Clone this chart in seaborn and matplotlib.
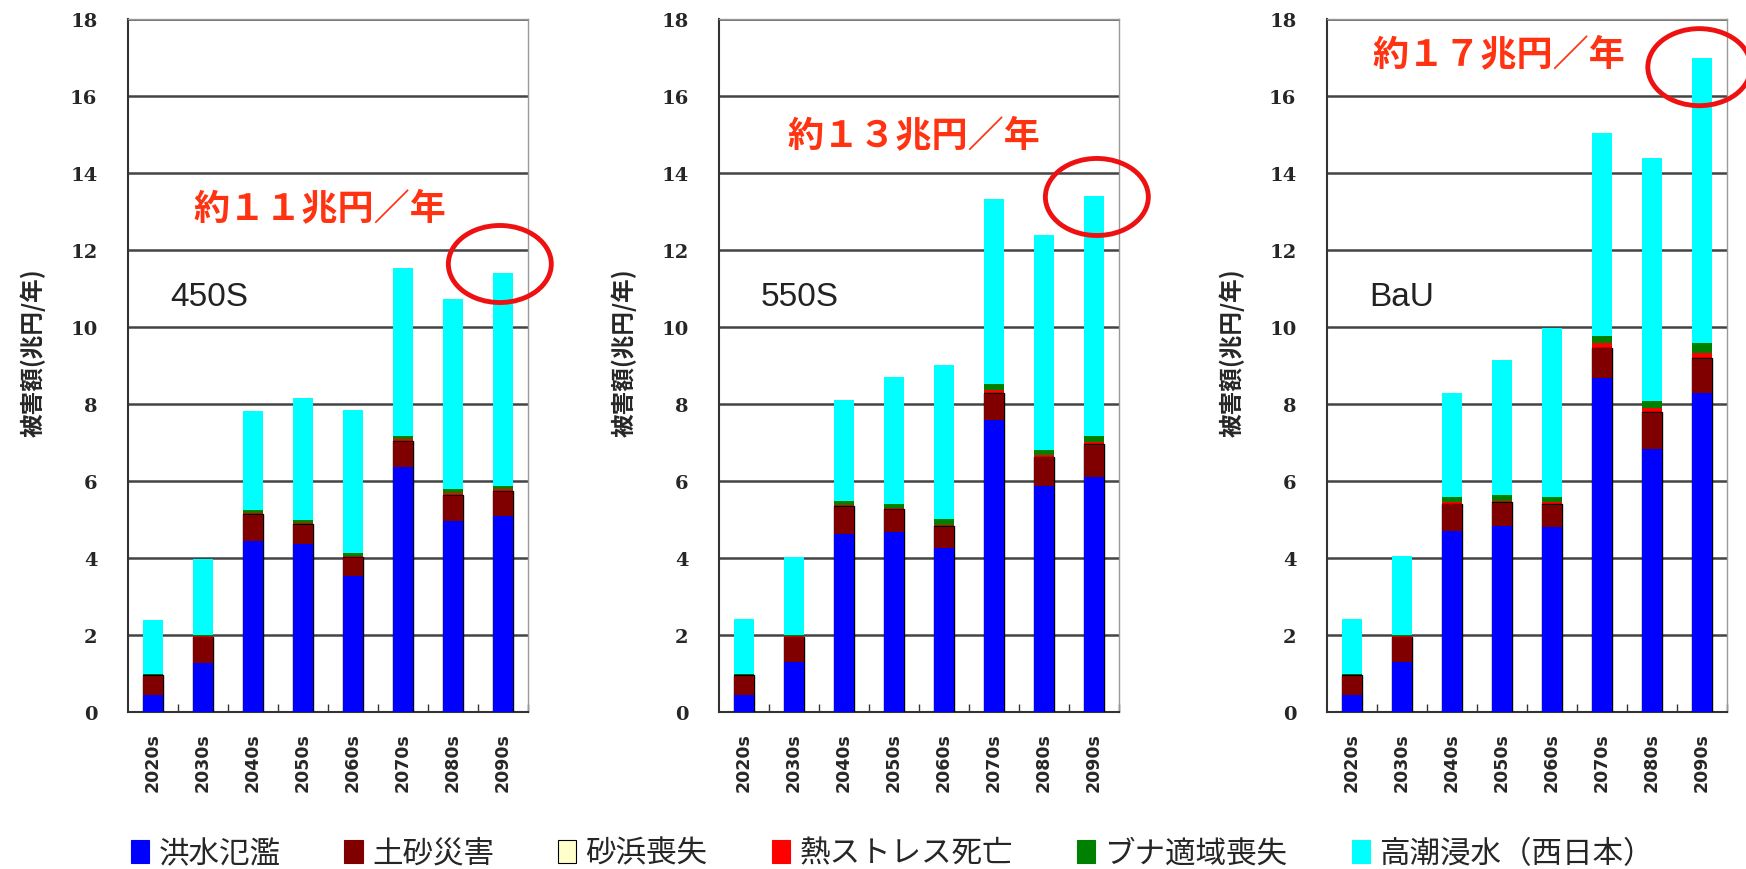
import matplotlib
matplotlib.use("Agg")
import matplotlib.pyplot as plt
from matplotlib.patches import Ellipse, Patch
import numpy as np
import seaborn as sns

# decades on the x axis
decades = ["2020s", "2030s", "2040s", "2050s", "2060s", "2070s", "2080s", "2090s"]
scenarios = ["450S", "550S", "BaU"]
damage_names = ["洪水氾濫", "土砂災害", "砂浜喪失", "熱ストレス死亡", "ブナ適域喪失", "高潮浸水（西日本）"]
damage_colors = ["#0000FF", "#800000", "#FFFFCC", "#FF0000", "#008000", "#00FFFF"]
total_labels = ["約１１兆円／年", "約１３兆円／年", "約１７兆円／年"]

# damage (trillion yen / year) per category
flood_450 = [0.44, 1.27, 4.44, 4.36, 3.53, 6.36, 4.96, 5.09]
sediment_450 = [0.50, 0.68, 0.68, 0.50, 0.48, 0.66, 0.66, 0.63]
beach_450 = [0.02, 0.02, 0.02, 0.02, 0.02, 0.02, 0.02, 0.02]
heat_450 = [0.02, 0.02, 0.04, 0.03, 0.03, 0.05, 0.05, 0.05]
beech_450 = [0.02, 0.02, 0.08, 0.08, 0.09, 0.08, 0.10, 0.10]
surge_450 = [1.39, 1.96, 2.56, 3.17, 3.70, 4.37, 4.95, 5.51]

flood_550 = [0.44, 1.30, 4.62, 4.68, 4.28, 7.58, 5.87, 6.10]
sediment_550 = [0.50, 0.65, 0.71, 0.57, 0.54, 0.68, 0.75, 0.85]
beach_550 = [0.02, 0.02, 0.02, 0.02, 0.02, 0.02, 0.02, 0.02]
heat_550 = [0.02, 0.02, 0.04, 0.03, 0.03, 0.09, 0.05, 0.06]
beech_550 = [0.02, 0.02, 0.10, 0.10, 0.15, 0.15, 0.12, 0.14]
surge_550 = [1.42, 2.02, 2.61, 3.30, 4.00, 4.80, 5.59, 6.24]

flood_bau = [0.44, 1.30, 4.72, 4.85, 4.80, 8.68, 6.84, 8.28]
sediment_bau = [0.50, 0.65, 0.68, 0.58, 0.58, 0.77, 0.94, 0.89]
beach_bau = [0.02, 0.02, 0.02, 0.02, 0.02, 0.02, 0.02, 0.02]
heat_bau = [0.02, 0.02, 0.05, 0.05, 0.05, 0.12, 0.10, 0.14]
beech_bau = [0.02, 0.02, 0.12, 0.15, 0.15, 0.18, 0.18, 0.26]
surge_bau = [1.42, 2.04, 2.69, 3.49, 4.38, 5.27, 6.31, 7.40]

panels = [
    [flood_450, sediment_450, beach_450, heat_450, beech_450, surge_450],
    [flood_550, sediment_550, beach_550, heat_550, beech_550, surge_550],
    [flood_bau, sediment_bau, beach_bau, heat_bau, beech_bau, surge_bau],
]

# annotation placement (data coords) per panel
total_pos = [(0.8, 13.1), (0.86, 15.0), (0.4, 17.1)]
circle_pos = [(6.94, 11.64), (7.06, 13.38), (6.95, 16.75)]

sns.set_theme(style="white")
plt.rcParams["font.family"] = ["Noto Sans CJK JP", "DejaVu Sans"]

fig = plt.figure(figsize=(17.46, 8.70), dpi=100)
lefts = [0.0733, 0.4118, 0.760]

for i, layers in enumerate(panels):
    ax = fig.add_axes([lefts[i], 0.18, 0.229, 0.797])
    cum = np.cumsum(np.array(layers), axis=0)
    # draw cumulative bars from the top layer down so they stack visually
    for k in reversed(range(len(layers))):
        edge = "black" if k == 2 else "none"
        sns.barplot(x=decades, y=cum[k], color=damage_colors[k], saturation=1,
                    width=0.4, edgecolor=edge, linewidth=1.0 if k == 2 else 0,
                    ax=ax, zorder=3)

    ax.set_xlim(-0.5, 7.5)
    ax.set_ylim(0, 18)
    ax.set_yticks(range(0, 19, 2))
    ax.yaxis.grid(True, color="#444444", linewidth=1.8, zorder=0)
    ax.set_axisbelow(True)
    for side in ["top", "right"]:
        ax.spines[side].set_color("#999999")
        ax.spines[side].set_linewidth(1.0)
    for side in ["left", "bottom"]:
        ax.spines[side].set_color("#333333")
        ax.spines[side].set_linewidth(1.5)

    ax.set_xticks(np.arange(len(decades)) + 0.5, minor=True)
    ax.tick_params(axis="x", which="minor", direction="in", length=6, color="#333333", bottom=True)
    ax.tick_params(axis="x", which="major", length=0, pad=14)
    ax.tick_params(axis="y", length=0, pad=22)
    ax.set_xticks(range(len(decades)))
    ax.set_xticklabels(decades, rotation=90, fontsize=12.5, fontweight="bold", family="DejaVu Sans")
    for lbl in ax.get_yticklabels():
        lbl.set_family("DejaVu Serif")
        lbl.set_fontweight("bold")
        lbl.set_fontsize(14)

    ax.set_xlabel("")
    ax.set_ylabel("被害額(兆円/年)", fontsize=17, fontweight="bold")
    ax.yaxis.set_label_coords(-0.205, 0.52)

    ax.text(0.34, 10.8, scenarios[i], fontsize=24, family="Liberation Sans",
            va="center", ha="left", color="#222222")
    tx, ty = total_pos[i]
    ax.text(tx, ty, total_labels[i], fontsize=26, fontweight="bold", color="#FF3311",
            va="center", ha="left")
    cx, cy = circle_pos[i]
    ax.add_patch(Ellipse((cx, cy), 2.06, 2.0, fill=False, edgecolor="#EE1111",
                         linewidth=3.5, clip_on=False, zorder=5))

handles = [Patch(facecolor=c, edgecolor="black" if c == "#FFFFCC" else c, linewidth=0.8)
           for c in damage_colors]
fig.legend(handles, damage_names, loc="center", bbox_to_anchor=(0.511, 0.018), ncol=6,
           frameon=False, fontsize=22, handlelength=0.6, handleheight=0.8,
           handletextpad=0.3, columnspacing=2.1)

fig.savefig("out.png", dpi=100)
